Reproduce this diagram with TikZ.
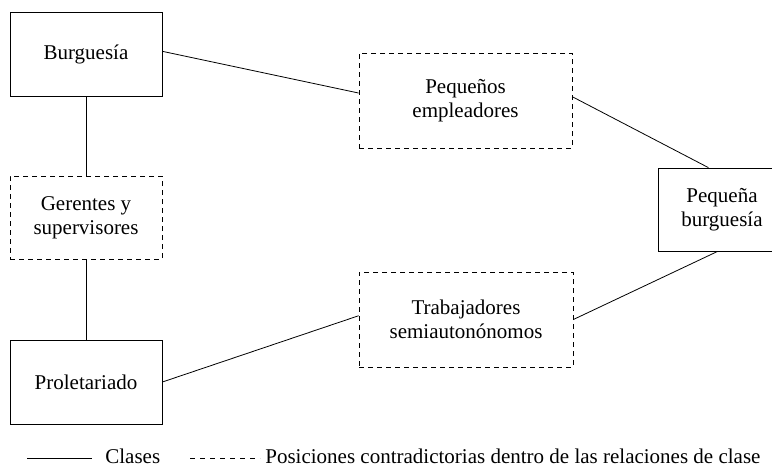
\documentclass[tikz,border=0pt]{standalone}
\usepackage{fontspec}
\setmainfont{Liberation Serif}
\usetikzlibrary{positioning}

\begin{document}
\begin{tikzpicture}[x=1pt,y=-1pt,line width=0.8pt,
	clase/.style={draw,align=center,minimum width=152pt,minimum height=84pt,font=\fontsize{21}{24}\selectfont},
	contra/.style={clase,dash pattern=on 5pt off 4pt},
	legtext/.style={anchor=base west,inner sep=0pt,font=\fontsize{21}{24}\selectfont}]
	\useasboundingbox (0,0) rectangle (772,469);

	% The classes and the contradictory positions
	\node[clase] (burg) at (86,54) {Burguesía};
	\node[contra,minimum height=83pt] (ger) at (86,217.5) {Gerentes y\\supervisores};
	\node[clase] (prol) at (86,382) {Proletariado};
	\node[contra,minimum width=213pt,minimum height=95pt] (emp) at (465.5,100.5) {Pequeños\\empleadores};
	\node[contra,minimum width=214pt,minimum height=95pt] (trab) at (466,319.5) {Trabajadores\\semiautonónomos};
	\node[clase,minimum width=128pt,minimum height=83pt] (pb) at (722,209.5) {Pequeña\\burguesía};

	% The relations
	\draw (burg.2) -- (emp.176);
	\draw (burg.south) -- (ger.north);
	\draw (ger.south) -- (prol.north);
	\draw (prol.east) -- (trab.178);
	\draw (emp.2) -- (pb.108.6);
	\draw (trab.east) -- (pb.264.5);

	% The legend
	\coordinate (sa) at (27,458);
	\coordinate (sb) at (92,458);
	\coordinate (da) at (190,458);
	\coordinate (db) at (260,458);
	\draw (sa) -- (sb);
	\draw[dash pattern=on 5pt off 5pt] (da) -- (db);
	\node[legtext] (lclase) at (105,463.5) {Clases};
	\node[legtext] (lcontra) at (265,463.5) {Posiciones contradictorias dentro de las relaciones de clase};
\end{tikzpicture}
\end{document}
